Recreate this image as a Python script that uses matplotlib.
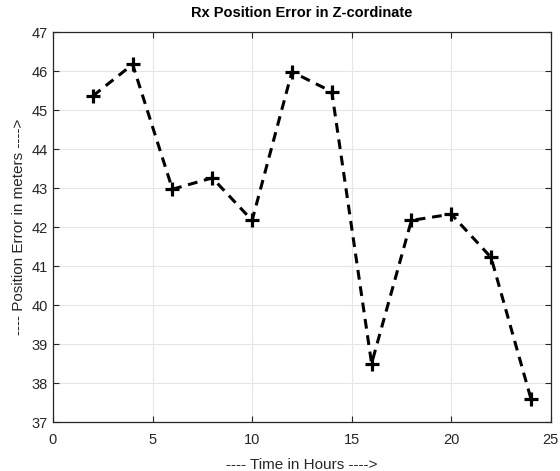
import numpy as np
import matplotlib.pyplot as plt

plt.rcParams['font.family'] = ['Liberation Sans', 'DejaVu Sans']

# Erro de posição do receptor na coordenada Z ao longo do dia
horas = [2, 4, 6, 8, 10, 12, 14, 16, 18, 20, 22, 24]
erro_z = [45.36, 46.17, 42.97, 43.26, 42.17, 45.98, 45.47, 38.50, 42.17, 42.33, 41.22, 37.60]

fig = plt.figure(figsize=(5.6, 4.71), dpi=100)
ax = fig.add_axes([0.0946, 0.104, 0.889, 0.828])

ax.plot(horas, erro_z, 'k--', linewidth=2.2, marker='+', markersize=10,
        markeredgewidth=2.3, dashes=(3.2, 2.2))

ax.set_xlim(0, 25)
ax.set_ylim(37, 47)
ax.set_xticks(np.arange(0, 26, 5))
ax.set_yticks(np.arange(37, 48, 1))
ax.grid(True, color='#e6e6e6', linewidth=0.8)
ax.set_axisbelow(True)
ax.tick_params(direction='in', top=True, right=True, labelsize=10.5,
               colors='#262626', length=4, width=0.8)
ax.tick_params(axis='x', pad=8)
for s in ax.spines.values():
    s.set_color('#262626')
    s.set_linewidth(0.9)

ax.set_title('Rx Position Error in Z-cordinate', fontsize=10.5,
             fontweight='bold', pad=11)
ax.set_xlabel('---- Time in Hours ---->', fontsize=11, color='#262626', labelpad=8)
ax.set_ylabel('---- Position Error in meters ---->', fontsize=11, color='#262626')

fig.savefig('out.png', dpi=100)
